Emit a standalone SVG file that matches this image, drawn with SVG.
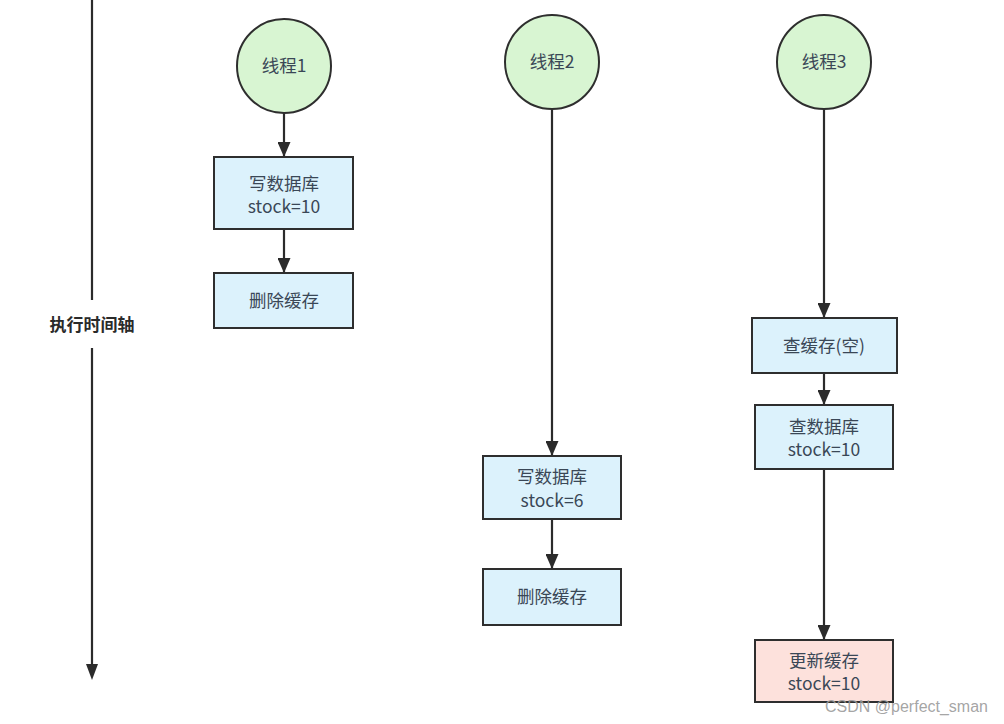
<svg xmlns="http://www.w3.org/2000/svg" width="1004" height="724" viewBox="0 0 1004 724">
<defs>
<marker id="ah" markerWidth="15" markerHeight="13" refX="15" refY="6.5" orient="auto" markerUnits="userSpaceOnUse" viewBox="0 0 15 13">
<path d="M0,0 L15,6.5 L0,13 Z" fill="#2b2b2b"/>
</marker>
<style>
.c{fill:#d8f5d2;stroke:#2e2e2e;stroke-width:2}
.b{fill:#dcf2fc;stroke:#2e2e2e;stroke-width:2}
.p{fill:#fde1dc;stroke:#2e2e2e;stroke-width:2}
.t{font-family:"Noto Sans CJK SC","Noto Sans",sans-serif;font-size:17.5px;fill:#3a4756;text-anchor:middle}
.l{stroke:#2b2b2b;stroke-width:2.2;fill:none}
</style>
</defs>
<rect width="1004" height="724" fill="#ffffff"/>
<g id="axis">
<line x1="92" y1="0" x2="92" y2="300" class="l"/>
<line x1="92" y1="348" x2="92" y2="666" class="l"/>
<path d="M86,664 L98,664 L92,680 Z" fill="#2b2b2b"/>
<text x="92" y="331" font-family="'Noto Sans CJK SC',sans-serif" font-size="17" font-weight="bold" fill="#2a2a2a" text-anchor="middle">执行时间轴</text>
</g>
<g id="connectors">
<line x1="284" y1="113" x2="284" y2="157" class="l" marker-end="url(#ah)"/>
<line x1="284" y1="229" x2="284" y2="273" class="l" marker-end="url(#ah)"/>
<line x1="552" y1="110" x2="552" y2="456" class="l" marker-end="url(#ah)"/>
<line x1="552" y1="519" x2="552" y2="569" class="l" marker-end="url(#ah)"/>
<line x1="824" y1="110" x2="824" y2="318" class="l" marker-end="url(#ah)"/>
<line x1="824" y1="373" x2="824" y2="405" class="l" marker-end="url(#ah)"/>
<line x1="824" y1="469" x2="824" y2="640" class="l" marker-end="url(#ah)"/>
</g>
<g id="thread1">
<circle cx="284" cy="66" r="47" class="c"/>
<text x="284" y="72" class="t">线程1</text>
</g>
<g id="t1-write">
<rect x="214" y="157" width="139" height="72" class="b"/>
<text x="284" y="190" class="t">写数据库</text>
<text x="284" y="213" class="t">stock=10</text>
</g>
<g id="t1-del">
<rect x="214" y="273" width="139" height="55" class="b"/>
<text x="284" y="307" class="t">删除缓存</text>
</g>
<g id="thread2">
<circle cx="552" cy="62" r="47" class="c"/>
<text x="552" y="68" class="t">线程2</text>
</g>
<g id="t2-write">
<rect x="483" y="456" width="138" height="63" class="b"/>
<text x="552" y="483" class="t">写数据库</text>
<text x="552" y="507" class="t">stock=6</text>
</g>
<g id="t2-del">
<rect x="483" y="569" width="138" height="56" class="b"/>
<text x="552" y="603" class="t">删除缓存</text>
</g>
<g id="thread3">
<circle cx="824" cy="62" r="47" class="c"/>
<text x="824" y="68" class="t">线程3</text>
</g>
<g id="t3-query-cache">
<rect x="752" y="318" width="145" height="55" class="b"/>
<text x="824" y="352" class="t">查缓存(空)</text>
</g>
<g id="t3-query-db">
<rect x="755" y="405" width="138" height="64" class="b"/>
<text x="824" y="433" class="t">查数据库</text>
<text x="824" y="456" class="t">stock=10</text>
</g>
<g id="t3-update">
<rect x="755" y="640" width="138" height="62" class="p"/>
<text x="824" y="667" class="t">更新缓存</text>
<text x="824" y="690" class="t">stock=10</text>
</g>
<text x="988" y="712" font-family="'Liberation Sans',Arial,sans-serif" font-size="16" fill="#9a9a9a" fill-opacity="0.9" text-anchor="end">CSDN @perfect_sman</text>
</svg>
